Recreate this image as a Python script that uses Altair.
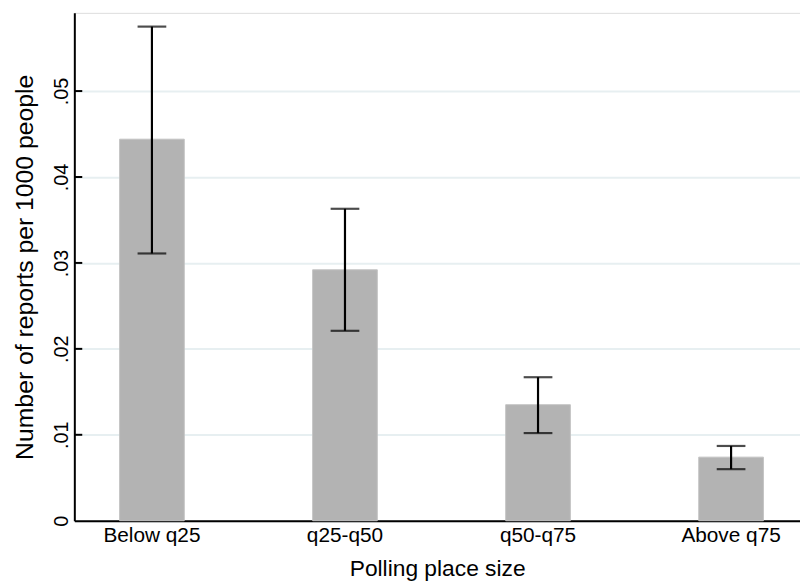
import altair as alt
import pandas as pd

categories = ["Below q25", "q25-q50", "q50-q75", "Above q75"]
means = [0.0444, 0.0292, 0.0135, 0.0074]
ci_low = [0.0311, 0.0221, 0.0102, 0.0060]
ci_high = [0.0575, 0.0363, 0.0167, 0.0087]
y_ticks = [0, 0.01, 0.02, 0.03, 0.04, 0.05]

df = pd.DataFrame({"cat": categories, "mean": means, "lo": ci_low, "hi": ci_high})
ticks_df = pd.DataFrame({"t": y_ticks[1:]})

FONT = "Liberation Sans"

xscale = alt.Scale(domain=categories, paddingInner=0.665, paddingOuter=0.212, align=0.553)
yscale = alt.Scale(domain=[0, 0.0591], nice=False, zero=True)

x_enc = alt.X("cat:N", scale=xscale, sort=categories,
              axis=alt.Axis(title="Polling place size", labelAngle=0, ticks=False,
                            labelPadding=4, titlePadding=12, domainColor="black",
                            domainWidth=2, labelFontSize=21, titleFontSize=23,
                            labelFont=FONT, titleFont=FONT, labelColor="black",
                            titleColor="black", titleFontWeight="normal"))

y_axis = alt.Axis(title="Number of reports per 1000 people", values=y_ticks,
                  labelExpr="datum.value == 0 ? '0' : replace(format(datum.value, '.2f'), '0.', '.')",
                  labelAngle=270, labelAlign="center", labelBaseline="alphabetic",
                  tickSize=0, labelPadding=7, titlePadding=14,
                  domainColor="black", domainWidth=2,
                  grid=True, gridColor="#e7eff1", gridWidth=2,
                  labelFontSize=20, titleFontSize=25, labelFont=FONT, titleFont=FONT,
                  labelColor="black", titleColor="black", titleFontWeight="normal")

bars = alt.Chart(df).mark_bar(color="#b3b3b3", stroke="#c2c2c2", strokeWidth=1).encode(
    x=x_enc,
    y=alt.Y("mean:Q", scale=yscale, axis=y_axis),
)

err = alt.Chart(df).mark_rule(color="black", strokeWidth=2.2).encode(
    x=alt.X("cat:N", scale=xscale, sort=categories),
    y=alt.Y("lo:Q", scale=yscale),
    y2="hi:Q",
)

cap_hi = alt.Chart(df).mark_tick(color="black", thickness=2.2, size=29, orient="horizontal").encode(
    x=alt.X("cat:N", scale=xscale, sort=categories),
    y=alt.Y("hi:Q", scale=yscale),
)
cap_lo = alt.Chart(df).mark_tick(color="black", thickness=2.2, size=29, orient="horizontal").encode(
    x=alt.X("cat:N", scale=xscale, sort=categories),
    y=alt.Y("lo:Q", scale=yscale),
)

yticks = alt.Chart(ticks_df).mark_rule(color="black", strokeWidth=2).encode(
    y=alt.Y("t:Q", scale=yscale),
    x=alt.value(0),
    x2=alt.value(8),
)

chart = alt.layer(bars, err, cap_hi, cap_lo, yticks).properties(
    width=733, height=513,
    autosize=alt.AutoSizeParams(type="none"),
    padding={"left": 67, "top": 2, "right": 0, "bottom": 60},
).configure_view(stroke=None).configure(background="white")

chart.save("out.html", embed_options={"renderer": "svg", "actions": False})
